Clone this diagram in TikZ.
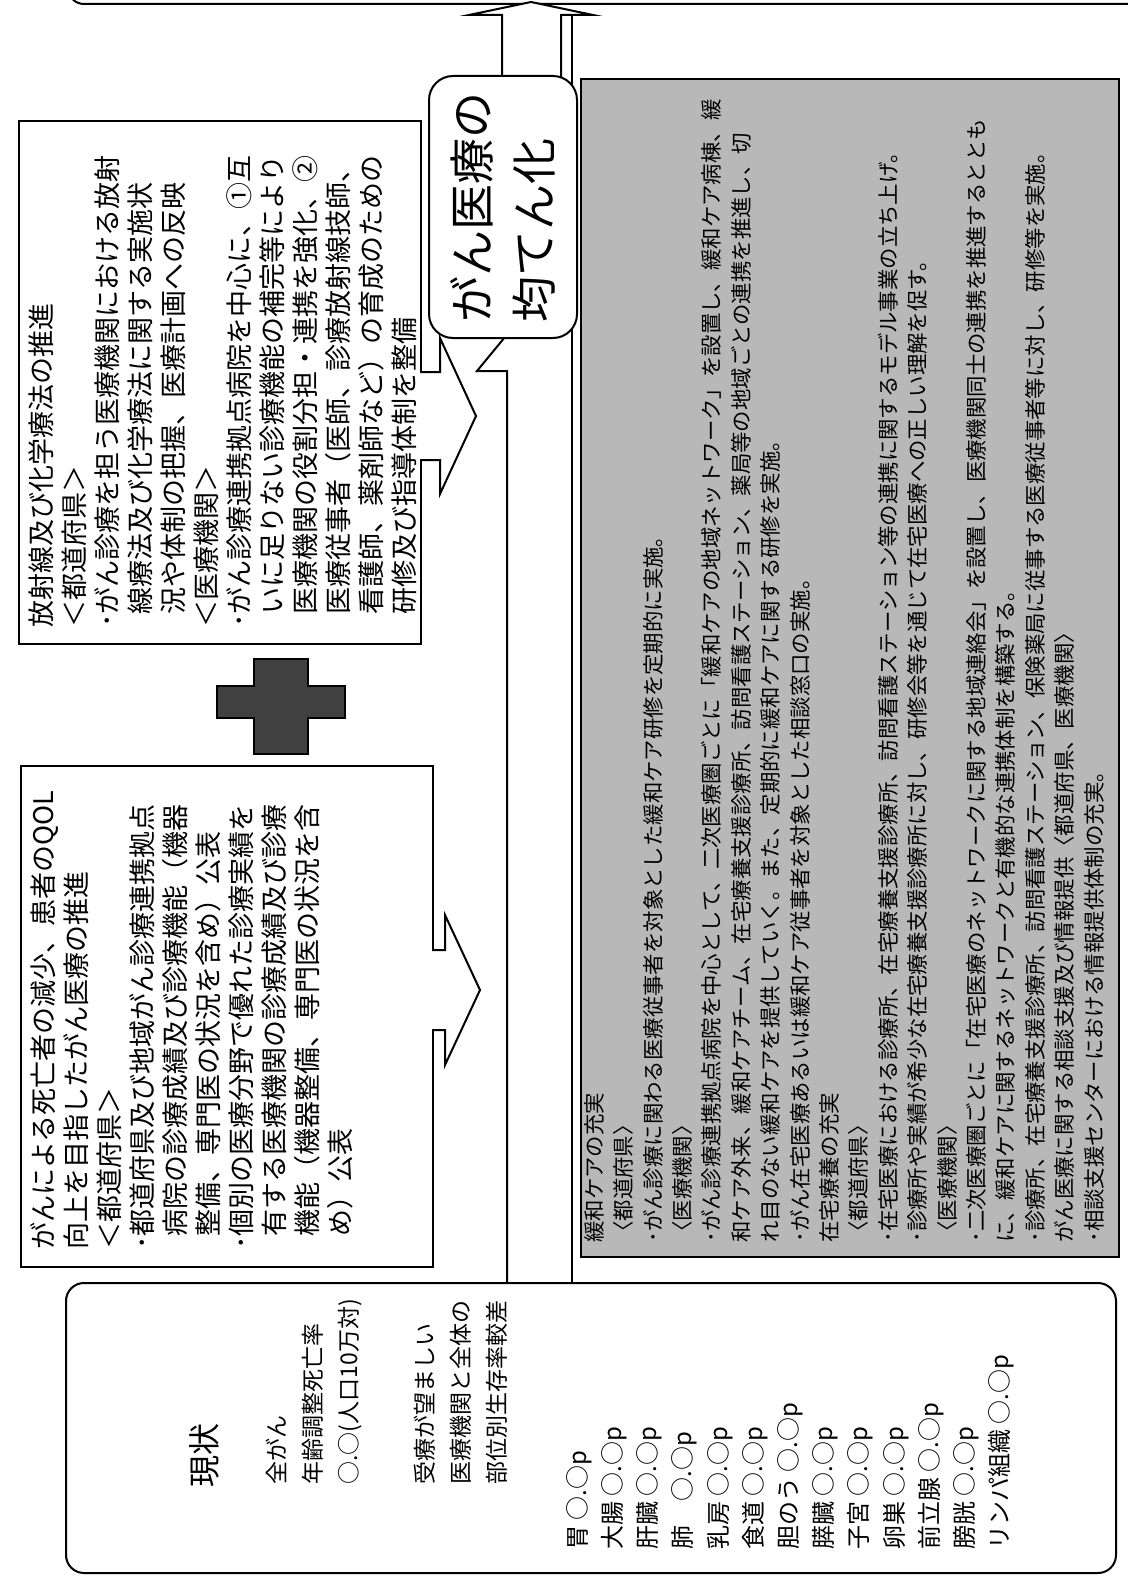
\documentclass[tikz,border=0pt]{standalone}
\usepackage{fontspec}
\setmainfont{Noto Sans CJK JP}
\begin{document}
\begin{tikzpicture}[x=0.5pt,y=-0.5pt,
  ln/.style={draw=black,line width=1pt},
  bx/.style={draw=black,line width=1pt,fill=white},
  tx/.style={rotate=90,anchor=north west,align=left,inner sep=0pt},
  fA/.style={font=\fontsize{13.5}{16.5}\selectfont},
  fG/.style={font=\fontsize{10.7}{14.7}\selectfont},
  fS/.style={font=\fontsize{11.5}{18}\selectfont},
  fO/.style={font=\fontsize{12}{17.6}\selectfont},
]
\useasboundingbox (0,0) rectangle (1128,1584);
% goal box beyond the page (only its lower edge visible)
\draw[ln, rounded corners=8pt] (68,-40) -- (68,4) -- (1140,4);
% gray box
\node[draw=black,line width=1pt,fill=black!28,anchor=north west,minimum width=269pt,minimum height=589pt,inner sep=0pt] (gray) at (580,78) {};
% channel lines
\draw[ln] (572,15) -- (572,1282);
\draw[ln] (507,1282) -- (507,371) -- (477,371) -- (505,337);
% top arrow
\draw[bx] (502,78) -- (502,15) -- (469,15) -- (531,2) -- (593,15) -- (561,15) -- (561,78);
% boxes
\node[bx,anchor=north west,minimum width=201pt,minimum height=261.5pt,inner sep=0pt] (box2) at (18,120) {};
\node[bx,anchor=north west,minimum width=206pt,minimum height=250.5pt,inner sep=0pt] (box1) at (20,765) {};
\node[bx,anchor=north west,minimum width=525pt,minimum height=145pt,inner sep=0pt,rounded corners=9pt] (now) at (65,1282) {};
\node[bx,anchor=north west,minimum width=74pt,minimum height=131pt,inner sep=0pt,rounded corners=12pt] (goal) at (428,75) {};
% arrows from boxes
\draw[bx] (420,372) -- (440,372) -- (440,338) -- (476,416) -- (440,494) -- (440,460) -- (420,460);
\draw[bx] (432,950) -- (445,950) -- (445,915) -- (480,990) -- (445,1065) -- (445,1030) -- (432,1030);
% plus
\draw[draw=black,line width=0.8pt,fill=black!75] (254,659) -- (308,659) -- (308,686) -- (345,686) -- (345,718) -- (308,718) -- (308,754) -- (254,754) -- (254,718) -- (217,718) -- (217,686) -- (254,686) -- cycle;
% texts
\node[tx,fA] (t2) at (28,628) {放射線及び化学療法の推進\\＜都道府県＞\\･がん診療を担う医療機関における放射\\\hspace*{0.5em}線療法及び化学療法に関する実施状\\\hspace*{0.5em}況や体制の把握、医療計画への反映\\＜医療機関＞\\･がん診療連携拠点病院を中心に、①互\\\hspace*{0.5em}いに足りない診療機能の補完等により\\\hspace*{0.5em}医療機関の役割分担・連携を強化、②\\\hspace*{0.5em}医療従事者（医師、診療放射線技師、\\\hspace*{0.5em}看護師、薬剤師など）の育成のための\\\hspace*{0.5em}研修及び指導体制を整備};
\node[tx,fA] (t1) at (30,1250) {がんによる死亡者の減少、患者のQOL\\向上を目指したがん医療の推進\\＜都道府県＞\\･都道府県及び地域がん診療連携拠点\\\hspace*{0.5em}病院の診療成績及び診療機能（機器\\\hspace*{0.5em}整備、専門医の状況を含め）公表\\･個別の医療分野で優れた診療実績を\\\hspace*{0.5em}有する医療機関の診療成績及び診療\\\hspace*{0.5em}機能（機器整備、専門医の状況を含\\\hspace*{0.5em}め）公表};
\node[rotate=90,align=left,inner sep=0pt,font=\fontsize{23}{31}\selectfont] (tg) at (goal.center) {がん医療の\\均てん化};
\node[tx,fG] (tgr) at (584,1243) {緩和ケアの充実\\〈都道府県〉\\･がん診療に関わる医療従事者を対象とした緩和ケア研修を定期的に実施。\\〈医療機関〉\\･がん診療連携拠点病院を中心として、二次医療圏ごとに「緩和ケアの地域ネットワーク」を設置し、緩和ケア病棟、緩\\和ケア外来、緩和ケアチーム、在宅療養支援診療所、訪問看護ステーション、薬局等の地域ごとの連携を推進し、切\\れ目のない緩和ケアを提供していく。また、定期的に緩和ケアに関する研修を実施。\\･がん在宅医療あるいは緩和ケア従事者を対象とした相談窓口の実施。\\在宅療養の充実\\〈都道府県〉\\･在宅医療における診療所、在宅療養支援診療所、訪問看護ステーション等の連携に関するモデル事業の立ち上げ。\\･診療所や実績が希少な在宅療養支援診療所に対し、研修会等を通じて在宅医療への正しい理解を促す。\\〈医療機関〉\\･二次医療圏ごとに「在宅医療のネットワークに関する地域連絡会」を設置し、医療機関同士の連携を推進するととも\\に、緩和ケアに関するネットワークと有機的な連携体制を構築する。\\･診療所、在宅療養支援診療所、訪問看護ステーション、保険薬局に従事する医療従事者等に対し、研修等を実施。\\がん医療に関する相談支援及び情報提供〈都道府県、医療機関〉\\･相談支援センターにおける情報提供体制の充実。};
\node[tx,font=\fontsize{16}{20}\selectfont] (tnow) at (189,1488) {現状};
\node[tx,fS] (tn1) at (266,1485) {全がん\\年齢調整死亡率\\○.○(人口10万対)};
\node[tx,fS] (tn2) at (414,1485) {受療が望ましい\\医療機関と全体の\\部位別生存率較差};
\node[tx,fO] (tn3) at (566,1550) {胃 ○.○p\\大腸 ○.○p\\肝臓 ○.○p\\肺　○.○p\\乳房 ○.○p\\食道 ○.○p\\胆のう ○.○p\\膵臓 ○.○p\\子宮 ○.○p\\卵巣 ○.○p\\前立腺 ○.○p\\膀胱 ○.○p\\リンパ組織 ○.○p};
\end{tikzpicture}
\end{document}
